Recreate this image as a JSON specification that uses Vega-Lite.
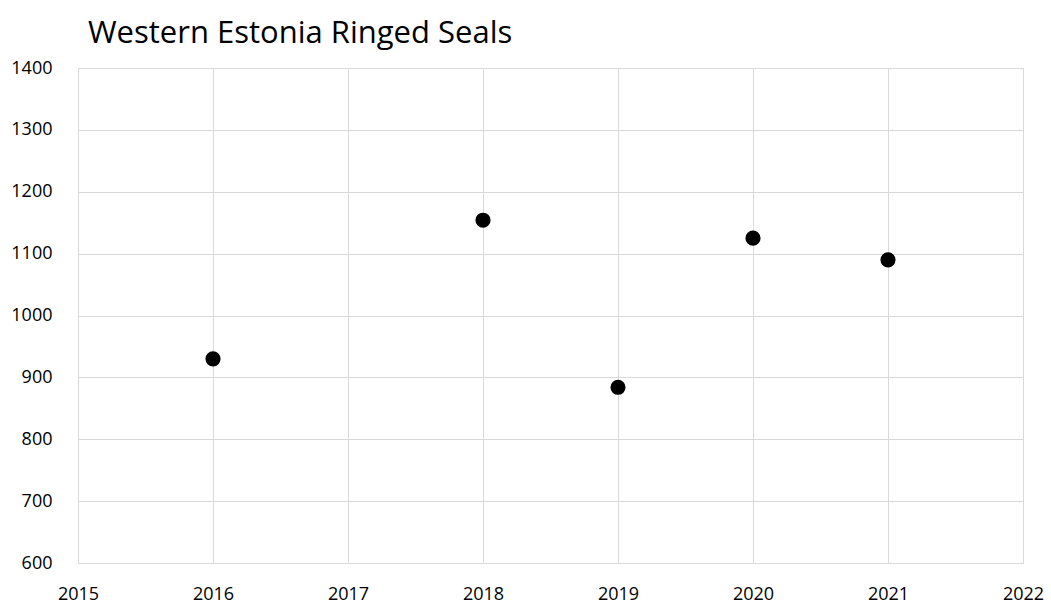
{
  "$schema": "https://vega.github.io/schema/vega-lite/v6.json",
  "autosize": {"type": "none"},
  "width": 945,
  "height": 495,
  "padding": {"left": 78, "top": 68, "right": 28, "bottom": 40},
  "background": "white",
  "title": {
    "text": "Western Estonia Ringed Seals",
    "anchor": "start",
    "frame": "group",
    "dx": 10,
    "offset": 9,
    "font": "Open Sans",
    "fontSize": 31,
    "fontWeight": "normal",
    "color": "#000000"
  },
  "data": {
    "values": [
      {"year": 2016, "seals": 930},
      {"year": 2018, "seals": 1154},
      {"year": 2019, "seals": 884},
      {"year": 2020, "seals": 1125},
      {"year": 2021, "seals": 1090}
    ]
  },
  "mark": {"type": "point", "filled": true, "shape": "circle", "size": 230, "color": "#000000", "opacity": 1},
  "encoding": {
    "x": {
      "field": "year",
      "type": "quantitative",
      "scale": {"domain": [2015, 2022], "nice": false, "zero": false},
      "axis": {
        "title": null,
        "values": [2015, 2016, 2017, 2018, 2019, 2020, 2021, 2022],
        "format": "d",
        "ticks": false,
        "labelPadding": 22,
        "labelFont": "Open Sans",
        "labelFontSize": 18,
        "labelColor": "#000000",
        "gridColor": "#d9d9d9",
        "domainColor": "#d9d9d9",
        "labelFlush": false
      }
    },
    "y": {
      "field": "seals",
      "type": "quantitative",
      "scale": {"domain": [600, 1400], "nice": false, "zero": false},
      "axis": {
        "title": null,
        "values": [600, 700, 800, 900, 1000, 1100, 1200, 1300, 1400],
        "format": "d",
        "ticks": false,
        "labelPadding": 26,
        "labelFont": "Open Sans",
        "labelFontSize": 18,
        "labelColor": "#000000",
        "gridColor": "#d9d9d9",
        "domainColor": "#d9d9d9"
      }
    }
  },
  "config": {
    "view": {"stroke": "#d9d9d9"}
  }
}
